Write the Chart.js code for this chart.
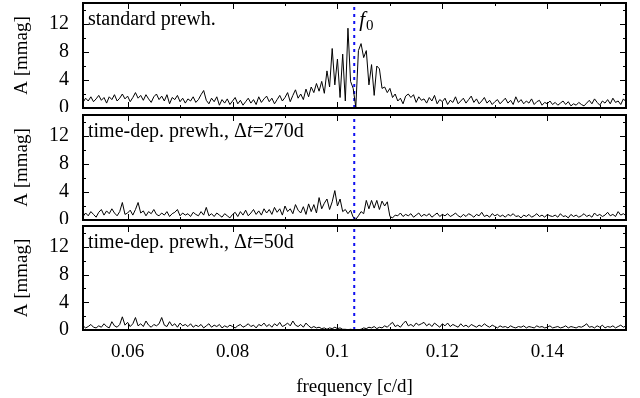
<!DOCTYPE html>
<html>
<head>
<meta charset="utf-8">
<script src="https://cdn.jsdelivr.net/npm/chart.js@4.4.0/dist/chart.umd.min.js"></script>
<style>
  body { margin: 0; background: #fff; }
  #wrap { position: relative; width: 640px; height: 398px; }
  .panel { position: absolute; left: 0; width: 640px; }
</style>
</head>
<body>
<div id="wrap">
  <div class="panel" style="top:0;height:112px"><canvas id="p1"></canvas></div>
  <div class="panel" style="top:112px;height:112px"><canvas id="p2"></canvas></div>
  <div class="panel" style="top:224px;height:174px"><canvas id="p3"></canvas></div>
</div>
<script>
// frequency grid of the amplitude spectra (c/d)
const freqStart = 0.0515;
const freqStep = 0.0005;

// amplitude spectra in mmag, one value per grid frequency
const ampStandard = [
  0.8, 1.4, 1.0, 1.6, 0.9, 1.3, 1.8, 1.1, 1.5, 0.7,
  1.6, 1.2, 1.9, 1.0, 1.4, 2.0, 1.3, 1.7, 0.9, 1.5,
  2.2, 1.4, 1.8, 1.1, 1.9, 1.3, 0.8, 1.6, 2.0, 1.2,
  1.7, 1.0, 1.9, 0.6, 1.5, 1.2, 1.8, 0.9, 1.4, 0.7,
  1.3, 1.0, 1.6, 0.8, 1.2, 1.9, 2.5, 1.1, 0.6, 1.4,
  0.9, 1.6, 0.4, 1.2, 0.7, 1.3, 0.5, 1.0, 1.5, 0.6,
  1.1, 0.4, 0.9, 1.4, 0.7, 1.2, 0.5, 1.6, 0.8, 1.3,
  1.7, 0.9, 1.4, 0.6, 1.2, 1.8, 1.0, 1.5, 2.2, 0.9,
  1.8, 2.6, 1.4, 2.0, 1.2, 2.7, 1.6, 3.0, 2.2, 3.5,
  2.4, 3.8, 2.1, 5.3, 3.0, 8.5, 3.3, 7.0, 1.5, 7.7,
  1.0, 11.4, 3.8, 2.8, 0.1, 8.2, 9.2, 7.2, 8.2, 3.3,
  6.2, 1.8, 6.0, 5.6, 2.8, 3.0, 2.2, 2.8, 1.5, 2.0,
  1.0, 1.4, 0.6, 1.7, 2.0, 1.5, 1.9, 0.8, 1.6, 1.1,
  1.3, 0.7, 1.5, 1.0, 1.8, 0.6, 1.2, 0.9, 1.4, 0.5,
  1.1, 0.8, 1.6, 0.6, 1.0, 1.4, 0.7, 1.2, 1.7, 0.8,
  1.3, 0.6, 1.0, 1.5, 0.7, 1.1, 0.5, 0.9, 1.2, 0.6,
  1.0, 1.4, 0.7, 1.1, 0.5, 1.6, 0.8, 1.2, 0.6, 1.0,
  0.7, 1.3, 0.5, 0.9, 1.1, 0.4, 0.8, 0.6, 1.0, 0.5,
  0.8, 0.4, 0.7, 1.0, 0.5, 0.9, 0.3, 0.6, 0.4, 0.8,
  0.5, 0.3, 0.7, 1.1, 0.6, 1.3, 0.8, 0.4, 1.0, 0.7,
  1.2, 0.6, 1.4, 0.8, 1.0, 0.5, 1.3, 0.9
];

const amp270 = [
  0.5, 1.0, 0.6, 1.2, 0.8, 0.4, 1.1, 1.5, 0.7, 1.3,
  0.9, 1.6, 1.0, 0.6, 1.2, 2.5, 0.8, 1.0, 1.4, 0.7,
  1.5, 2.5, 1.0, 1.3, 0.6, 1.2, 0.9, 1.5, 0.8, 0.6,
  1.0, 0.7, 1.2, 0.5, 0.9, 1.1, 1.5, 0.6, 1.0, 0.7,
  0.9, 0.5, 1.1, 0.8, 0.6, 1.2, 0.7, 1.8, 0.6, 0.9,
  0.5, 1.0, 0.7, 0.4, 0.9, 0.6, 0.3, 0.8, 1.1, 0.5,
  1.2, 0.7, 1.4, 0.6, 1.0, 1.5, 0.8, 1.3, 0.7, 1.6,
  1.0, 1.5, 0.8, 1.8, 1.1, 1.6, 0.7, 2.0, 1.2, 1.6,
  0.9, 2.2, 1.4, 1.0, 1.9, 0.8, 2.3, 1.2, 2.2, 1.0,
  3.2, 1.6, 2.4, 3.0, 1.5, 2.6, 4.2, 2.0, 3.0, 1.2,
  1.5, 0.9, 1.4, 0.4, 0.1, 0.6, 1.2, 0.9, 2.8, 1.6,
  2.8, 1.7, 2.8, 1.5, 2.7, 2.0, 2.6, 0.5, 0.3, 0.7,
  0.6, 1.0, 0.5, 0.8, 0.6, 0.9, 0.4, 0.7, 1.0, 0.5,
  0.8, 0.6, 0.9, 0.4, 0.7, 1.0, 0.5, 0.8, 0.6, 0.9,
  0.5, 0.7, 1.0, 0.6, 0.4, 0.8, 0.5, 0.9, 0.7, 0.4,
  0.8, 0.6, 1.1, 0.5, 0.7, 0.4, 0.9, 0.6, 0.8, 0.5,
  0.7, 0.4, 0.8, 0.6, 0.9, 0.5, 0.6, 0.3, 0.7, 0.5,
  0.8, 0.4, 0.6, 0.9, 0.5, 0.7, 0.4, 0.8, 0.6, 0.5,
  0.7, 0.4, 0.9, 0.5, 0.6, 0.3, 0.8, 0.5, 0.7, 0.4,
  0.6, 0.9, 0.5, 0.7, 0.4, 1.0, 0.6, 0.8, 0.5, 0.7,
  1.1, 0.6, 0.8, 0.5, 1.2, 0.7, 0.9, 0.6
];

const amp50 = [
  0.6, 0.3, 0.5, 0.8, 0.4, 0.3, 0.6, 0.4, 0.9, 0.5,
  0.3, 1.2, 0.6, 0.4, 0.8, 1.9, 0.7, 1.1, 0.5, 0.9,
  1.8, 0.6, 0.9, 0.5, 1.3, 0.7, 0.4, 0.8, 0.6, 0.9,
  1.8, 0.7, 0.5, 1.2, 0.6, 0.9, 0.4, 1.0, 0.6, 0.8,
  0.5, 0.9, 0.4, 0.7, 0.5, 0.8, 0.3, 0.6, 0.9, 0.4,
  0.7, 0.5, 0.8, 0.3, 0.6, 0.4, 0.7, 0.5, 0.3, 0.6,
  0.8, 0.4, 0.6, 0.9, 0.5, 0.7, 0.3, 0.8, 0.6, 1.0,
  0.5, 0.8, 0.4, 0.9, 0.6, 1.1, 0.5, 0.7, 1.0, 0.6,
  1.3, 0.7, 0.5, 0.8, 0.4, 1.0, 0.6, 0.3, 0.5, 0.3,
  0.4, 0.2, 0.3, 0.1, 0.3, 0.2, 0.4, 0.2, 0.3, 0.1,
  0.1, 0.05, 0.1, 0.05, 0.02, 0.05, 0.1, 0.3, 0.2, 0.4,
  0.3, 0.5, 0.2, 0.4, 0.3, 0.6, 0.4, 0.8, 1.1, 0.5,
  0.7, 0.4, 0.9, 1.3, 0.6, 0.8, 0.5, 1.0, 0.7, 0.9,
  1.1, 0.6, 0.9, 0.5, 1.0, 0.7, 0.4, 0.9, 0.6, 1.0,
  0.5, 0.8, 0.6, 0.4, 0.9, 0.5, 0.7, 0.4, 0.8, 0.6,
  0.4, 0.7, 0.5, 0.9, 0.6, 0.4, 0.7, 0.5, 0.3, 0.6,
  0.4, 0.5, 0.3, 0.6, 0.4, 0.3, 0.5, 0.4, 0.6, 0.3,
  0.5, 0.4, 0.3, 0.6, 0.4, 0.5, 0.3, 0.4, 0.6, 0.3,
  0.4, 0.5, 0.3, 0.4, 0.6, 0.3, 0.5, 0.4, 0.3, 0.5,
  0.4, 0.6, 0.9, 0.4, 0.5, 0.3, 0.6, 0.4, 0.7, 0.3,
  0.5, 0.4, 0.6, 0.3, 0.5, 0.7, 0.4, 0.6
];

// main pulsation frequency, marked in every panel
const f0 = 0.1032;

// axis ranges and ticks
const xRange = [0.0515, 0.155];
const yRange = [0, 15];
const xMajorTicks = [0.06, 0.08, 0.1, 0.12, 0.14];
const xTickLabels = ['0.06', '0.08', '0.1', '0.12', '0.14'];
const xMinorTicks = [0.07, 0.09, 0.11, 0.13, 0.15];
const yMajorTicks = [0, 4, 8, 12];
const yTickLabels = ['0', '4', '8', '12'];
const yMinorTicks = [2, 6, 10, 14];

const SERIF = "'Liberation Serif', 'DejaVu Serif', serif";

function toPoints(amps) {
  return amps.map((a, i) => ({ x: freqStart + i * freqStep, y: a }));
}

// frame around the plot area with gnuplot-style inward ticks on all sides
const frameTicks = {
  id: 'frameTicks',
  afterDatasetsDraw(chart) {
    const { ctx, chartArea: a, scales: { x, y } } = chart;
    ctx.save();
    ctx.strokeStyle = '#000';
    ctx.lineWidth = 1;
    const tick = (px, len, vertical) => {
      ctx.beginPath();
      if (vertical) {
        ctx.moveTo(px, a.bottom); ctx.lineTo(px, a.bottom - len);
        ctx.moveTo(px, a.top); ctx.lineTo(px, a.top + len);
      } else {
        ctx.moveTo(a.left, px); ctx.lineTo(a.left + len, px);
        ctx.moveTo(a.right, px); ctx.lineTo(a.right - len, px);
      }
      ctx.stroke();
    };
    xMajorTicks.forEach(v => tick(Math.round(x.getPixelForValue(v)) + 0.5, 6, true));
    xMinorTicks.forEach(v => tick(Math.round(x.getPixelForValue(v)) + 0.5, 3, true));
    yMajorTicks.forEach(v => tick(Math.round(y.getPixelForValue(v)) + 0.5, 6, false));
    yMinorTicks.forEach(v => tick(Math.round(y.getPixelForValue(v)) + 0.5, 3, false));
    ctx.lineWidth = 2;
    ctx.strokeRect(a.left, a.top, a.right - a.left, a.bottom - a.top);
    ctx.restore();
  }
};

// panel caption, drawn in pieces so that symbols can be italic
function captionPlugin(parts, withF0) {
  return {
    id: 'caption',
    afterDraw(chart) {
      const { ctx, chartArea: a } = chart;
      ctx.save();
      ctx.fillStyle = '#000';
      ctx.textBaseline = 'alphabetic';
      let xPos = a.left + 5;
      const yPos = a.top + 22;
      parts.forEach(p => {
        ctx.font = (p.italic ? 'italic ' : '') + '20px ' + SERIF;
        ctx.fillText(p.text, xPos, yPos);
        xPos += ctx.measureText(p.text).width;
      });
      if (withF0) {
        const px = chart.scales.x.getPixelForValue(f0) + 5;
        ctx.font = 'italic 21px ' + SERIF;
        ctx.fillText('f', px, yPos + 1);
        const w = ctx.measureText('f').width;
        ctx.font = '15px ' + SERIF;
        ctx.fillText('0', px + w + 1, yPos + 5);
      }
      ctx.restore();
    }
  };
}

function makePanel(id, amps, parts, opts) {
  const showX = !!opts.showX;
  new Chart(document.getElementById(id), {
    type: 'line',
    data: {
      datasets: [
        {
          data: toPoints(amps),
          borderColor: '#000',
          borderWidth: 1,
          pointRadius: 0,
          tension: 0
        },
        {
          data: [{ x: f0, y: yRange[0] }, { x: f0, y: yRange[1] }],
          borderColor: '#1010f0',
          borderWidth: 2,
          borderDash: [3, 4],
          pointRadius: 0
        }
      ]
    },
    options: {
      responsive: true,
      maintainAspectRatio: false,
      animation: false,
      layout: { padding: { top: opts.padTop, bottom: opts.padBottom, left: 0, right: 14 } },
      plugins: {
        legend: { display: false },
        tooltip: { enabled: false }
      },
      scales: {
        x: {
          type: 'linear',
          min: xRange[0],
          max: xRange[1],
          display: showX,
          grid: { display: false },
          border: { display: false },
          afterBuildTicks: s => { s.ticks = xMajorTicks.map(v => ({ value: v })); },
          afterFit: s => {
            if (showX) s.height = 68;
            s.paddingLeft = 0;
            s.paddingRight = 0;
          },
          ticks: {
            autoSkip: false,
            maxRotation: 0,
            padding: 3,
            color: '#000',
            font: { family: SERIF, size: 19 },
            callback: v => xTickLabels[xMajorTicks.indexOf(v)]
          },
          title: {
            display: true,
            text: 'frequency [c/d]',
            color: '#000',
            font: { family: SERIF, size: 19 },
            padding: { top: 5, bottom: 0 }
          }
        },
        y: {
          min: yRange[0],
          max: yRange[1],
          grid: { display: false },
          border: { display: false },
          afterBuildTicks: s => { s.ticks = yMajorTicks.map(v => ({ value: v })); },
          afterFit: s => {
            s.width = 83;
            s.paddingTop = 0;
            s.paddingBottom = 0;
          },
          ticks: {
            padding: 6,
            color: '#000',
            font: { family: SERIF, size: 20 },
            callback: v => yTickLabels[yMajorTicks.indexOf(v)]
          },
          title: {
            display: true,
            text: 'A [mmag]',
            color: '#000',
            font: { family: SERIF, size: 19 },
            padding: { top: 11, bottom: 0 }
          }
        }
      }
    },
    plugins: [frameTicks, captionPlugin(parts, !!opts.f0Label)]
  });
}

makePanel('p1', ampStandard,
  [{ text: 'standard prewh.' }],
  { padTop: 3, padBottom: 4, f0Label: true });

makePanel('p2', amp270,
  [{ text: 'time-dep. prewh., \u0394' }, { text: 't', italic: true }, { text: '=270d' }],
  { padTop: 3, padBottom: 4 });

makePanel('p3', amp50,
  [{ text: 'time-dep. prewh., \u0394' }, { text: 't', italic: true }, { text: '=50d' }],
  { padTop: 2, padBottom: 0, showX: true });
</script>
</body>
</html>
